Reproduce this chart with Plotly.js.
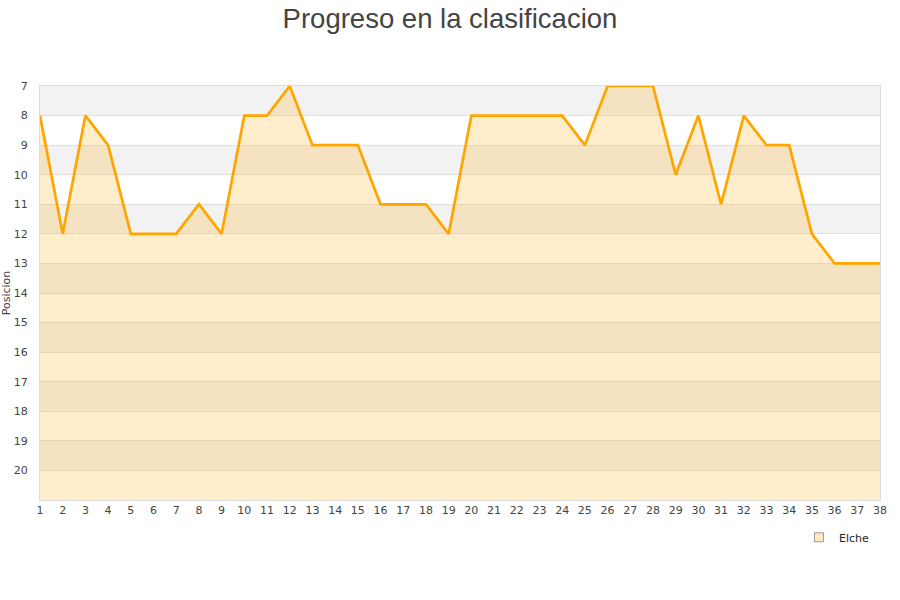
<!DOCTYPE html>
<html>
<head>
<meta charset="utf-8">
<script src="https://cdn.plot.ly/plotly-3.0.1.min.js"></script>
<style>html,body{margin:0;padding:0;background:#fff;}#chart{width:900px;height:600px;}</style>
</head>
<body>
<div id="chart"></div>
<script>
var jornadas = [1,2,3,4,5,6,7,8,9,10,11,12,13,14,15,16,17,18,19,20,21,22,23,24,25,26,27,28,29,30,31,32,33,34,35,36,37,38];
var posiciones = [8,12,8,9,12,12,12,11,12,8,8,7,9,9,9,11,11,11,12,8,8,8,8,8,9,7,7,7,10,8,11,8,9,9,12,13,13,13];
var equipo = "Elche";
var posMin = 7, posMax = 21;
var yTicks = [7,8,9,10,11,12,13,14,15,16,17,18,19,20];

var baseline = jornadas.map(function(){ return posMax; });

var shapes = [];
for (var p = posMin; p < posMax; p += 2) {
  shapes.push({type:'rect', xref:'paper', yref:'y', x0:0, x1:1, y0:p, y1:p+1,
    fillcolor:'#f2f2f2', line:{width:0}, layer:'below'});
}

var traces = [
  {x:jornadas, y:baseline, mode:'lines', line:{width:0}, hoverinfo:'skip', showlegend:false},
  {x:jornadas, y:posiciones, mode:'lines', fill:'tonexty', fillcolor:'rgba(255,165,0,0.2)',
   line:{color:'#FFA500', width:2.7}, showlegend:false, name:equipo},
  {x:[null], y:[null], mode:'markers', name:equipo,
   marker:{symbol:'square', size:9, color:'#ffe9c4', line:{color:'#999', width:1}}}
];

var layout = {
  width:900, height:600,
  paper_bgcolor:'#fff', plot_bgcolor:'#fff',
  font:{family:'DejaVu Sans, sans-serif', size:11, color:'#444'},
  title:{text:'Progreso en la clasificacion', font:{family:'Liberation Sans, Arial, sans-serif', size:27.5, color:'#444'}, x:0.5, xanchor:'center', y:0.985, yanchor:'top'},
  margin:{l:40, r:20, t:86, b:100},
  xaxis:{range:[1,38], tickvals:jornadas, ticktext:jornadas.map(String), showgrid:false, zeroline:false,
    showline:true, linecolor:'#dcdcdc', linewidth:1, mirror:true, ticks:'', tickfont:{size:11, color:'#444'}, fixedrange:true},
  yaxis:{range:[posMax, posMin], tickvals:yTicks, ticktext:yTicks.map(String), showgrid:true, gridcolor:'#e0e0e0', gridwidth:1,
    zeroline:false, showline:true, linecolor:'#dcdcdc', linewidth:1, mirror:true, ticks:'', ticklabelstandoff:9,
    title:{text:'Posicion', font:{size:11, color:'#444'}, standoff:4}, tickfont:{size:11, color:'#444'}},
  shapes:shapes,
  showlegend:true,
  legend:{x:0.994, xanchor:'right', y:-0.055, yanchor:'top', orientation:'h', font:{size:11, color:'#222'}, bgcolor:'rgba(0,0,0,0)', itemwidth:30},
};

Plotly.newPlot('chart', traces, layout, {displayModeBar:false, staticPlot:true});
</script>
</body>
</html>
